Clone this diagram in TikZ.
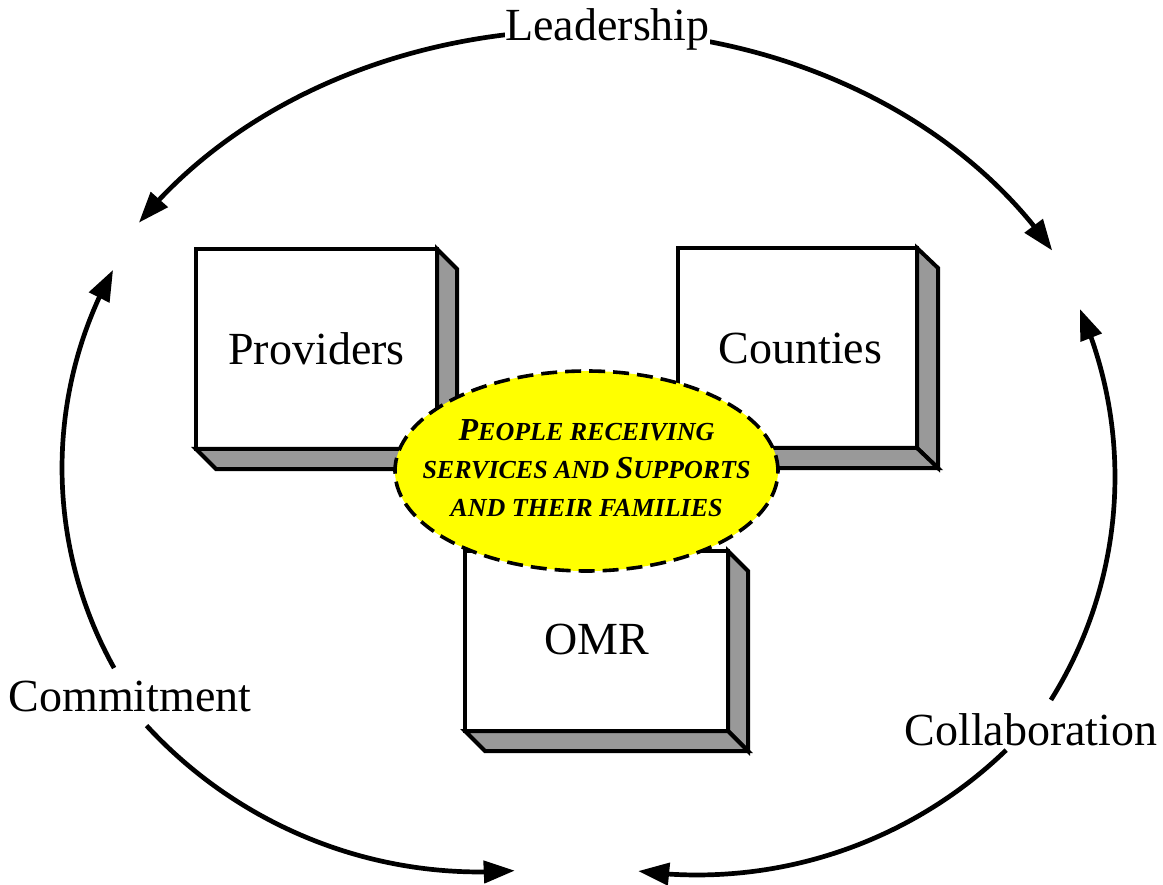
\documentclass[tikz,border=0pt]{standalone}
\usepackage{fontspec}
\setmainfont{Liberation Serif}
\usetikzlibrary{shapes.geometric,arrows.meta,bending,calc}
\definecolor{boxgray}{RGB}{153,153,153}
\definecolor{coreyellow}{RGB}{255,255,0}
\newcommand\capbig[1]{{\fontsize{32}{38}\selectfont #1}}
\begin{document}
\begin{tikzpicture}[x=1pt,y=-1pt,
  oneway/.style={line width=4.7pt,-{Triangle[length=31pt,width=22pt]}},
  twoway/.style={line width=4.7pt,{Triangle[length=31pt,width=22pt]}-{Triangle[length=31pt,width=22pt]}},
  lbl/.style={font=\fontsize{46}{50}\selectfont, inner sep=0pt, anchor=base},
  frontface/.style={draw, line width=4pt, fill=white, outer sep=0pt, inner sep=0pt,
    font=\fontsize{46}{50}\selectfont},
  sideface/.style={draw, line width=4pt, fill=boxgray, line join=miter},
  core/.style={ellipse, draw, fill=coreyellow, line width=3.6pt, dash pattern=on 16pt off 8pt,
    minimum width=383pt, minimum height=200pt, inner sep=0pt},
  coretext/.style={align=center, inner sep=0pt,
    font=\fontsize{26}{38}\selectfont\bfseries\itshape}]
\useasboundingbox (0,0) rectangle (1163,885);

% outer cycle of arrows
\coordinate (cT) at (585,460);
\coordinate (cL) at (472,468);
\coordinate (cBL) at (480,419);
\coordinate (cR) at (695,477);
\coordinate (cBR) at (697,430);
\draw[twoway] ($(cT)+(-146.5:535 and 430)$) arc[start angle=-146.5, end angle=-29.15, x radius=535, y radius=430];
\draw[oneway] ($(cL)+(150.8:410)$) arc[start angle=150.8, end angle=208.9, radius=410];
\draw[oneway] ($(cBL)+(137.4:453)$) arc[start angle=137.4, end angle=85.6, radius=453];
\draw[oneway] ($(cR)+(32.06:420)$) arc[start angle=32.06, end angle=-23.6, radius=420];
\draw[oneway] ($(cBR)+(46:445)$) arc[start angle=46, end angle=97.6, radius=445];

\node[lbl, fill=white] (lead) at (607.5,41) {Leadership};
\node[lbl] (commit) at (130,711) {Commitment};
\node[lbl] (collab) at (1031,745) {Collaboration};

% boxes
\node[frontface, minimum width=241pt, minimum height=200pt] (prov) at (316.5,349) {Providers};
\draw[sideface] (prov.north east) -- ++(20,20) -- ($(prov.south east)+(20,20)$) -- (prov.south east) -- cycle;
\draw[sideface] (prov.south west) -- ++(20,20) -- ($(prov.south east)+(20,20)$) -- (prov.south east) -- cycle;

\node[frontface, minimum width=239pt, minimum height=200pt] (count) at (797.5,348) {\hspace{6pt}Counties};
\draw[sideface] (count.north east) -- ++(21,20) -- ($(count.south east)+(21,20)$) -- (count.south east) -- cycle;
\draw[sideface] (count.south west) -- ++(21,20) -- ($(count.south east)+(21,20)$) -- (count.south east) -- cycle;

\node[frontface, minimum width=263pt, minimum height=180pt] (omr) at (596.5,641) {\raisebox{4pt}{OMR}};
\draw[sideface] (omr.north east) -- ++(20,20) -- ($(omr.south east)+(20,20)$) -- (omr.south east) -- cycle;
\draw[sideface] (omr.south west) -- ++(20,20) -- ($(omr.south east)+(20,20)$) -- (omr.south east) -- cycle;

% centre
\node[core] (core) at (586.5,471) {};
\node[coretext] (coretext) at (586.5,468) {\capbig{P}EOPLE RECEIVING\\SERVICES AND \capbig{S}UPPORTS\\AND THEIR FAMILIES};
\end{tikzpicture}
\end{document}
